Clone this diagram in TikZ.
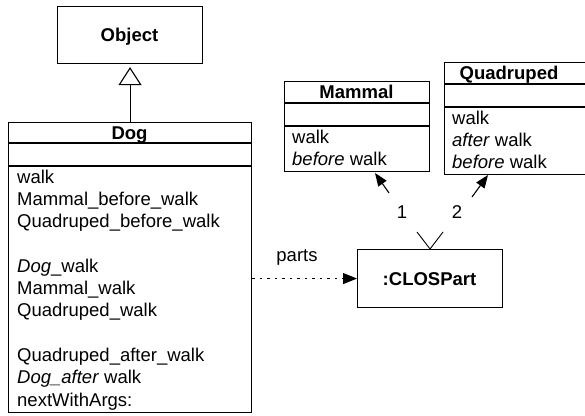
\documentclass[tikz,border=0pt]{standalone}
\usepackage{fontspec}
\setmainfont{Liberation Sans}
\usetikzlibrary{arrows.meta}
\tikzset{
  box/.style={draw, line width=1.1pt, inner sep=0pt, anchor=north west},
  sep/.style={line width=1.1pt},
  txt/.style={inner sep=0pt, anchor=base west, font=\fontsize{18.5}{22}\selectfont},
  ttl/.style={inner sep=0pt, anchor=base, font=\fontsize{18.5}{22}\selectfont\bfseries},
  lbl/.style={inner sep=0pt, anchor=base, font=\fontsize{18.5}{22}\selectfont},
  link/.style={line width=1.1pt},
  head/.style={-{Triangle[length=13pt,width=10pt]}},
}
\begin{document}
\begin{tikzpicture}[x=1pt,y=-1pt]
\useasboundingbox (0,0) rectangle (585,415);
% Object
\node[box, minimum width=145pt, minimum height=57pt] (object) at (57,6) {};
\node[ttl] (objectname) at (129.5,41) {Object};
% Dog
\node[box, minimum width=243pt, minimum height=290pt] (dog) at (8,122) {};
\draw[sep] ([yshift=-21pt]dog.north west) -- ([yshift=-21pt]dog.north east);
\draw[sep] ([yshift=-44pt]dog.north west) -- ([yshift=-44pt]dog.north east);
\node[ttl] (dogname) at (129.5,139.5) {Dog};
\node[txt] (d1) at (17,183) {walk};
\node[txt] (d2) at (17,205.3) {Mammal\_before\_walk};
\node[txt] (d3) at (17,227.6) {Quadruped\_before\_walk};
\node[txt] (d4) at (17,272.2) {\textit{Dog}\_walk};
\node[txt] (d5) at (17,294.5) {Mammal\_walk};
\node[txt] (d6) at (17,316.8) {Quadruped\_walk};
\node[txt] (d7) at (17,361.4) {Quadruped\_after\_walk};
\node[txt] (d8) at (17,383.7) {\textit{Dog\_after} walk};
\node[txt] (d9) at (17,406) {nextWithArgs:};
% Mammal
\node[box, minimum width=145pt, minimum height=90pt] (mammal) at (284,81) {};
\draw[sep] ([yshift=-22pt]mammal.north west) -- ([yshift=-22pt]mammal.north east);
\draw[sep] ([yshift=-45pt]mammal.north west) -- ([yshift=-45pt]mammal.north east);
\node[ttl] (mammalname) at (356.5,98) {Mammal};
\node[txt] (m1t) at (292,143) {walk};
\node[txt] (m2t) at (292,165) {\textit{before} walk};
% Quadruped
\node[box, minimum width=142pt, minimum height=112pt] (quad) at (444,62) {};
\draw[sep] ([yshift=-22pt]quad.north west) -- ([yshift=-22pt]quad.north east);
\draw[sep] ([yshift=-45pt]quad.north west) -- ([yshift=-45pt]quad.north east);
\node[ttl] (quadname) at (509,79) {Quadruped};
\node[txt] (q1t) at (452,124) {walk};
\node[txt] (q2t) at (452,146) {\textit{after} walk};
\node[txt] (q3t) at (452,168) {\textit{before} walk};
% CLOSPart
\node[box, minimum width=145pt, minimum height=58pt] (clos) at (357,249) {};
\node[ttl] (closname) at (429.5,285) {:CLOSPart};
% inheritance
\draw[link, -{Triangle[open,length=18pt,width=23pt]}, shorten >=3pt] (dog.north) -- (object.south);
% parts
\draw[link, dash pattern=on 2.5pt off 5pt, -{Triangle[length=14pt,width=11pt]}] (dog.east |- clos.west) -- (clos.west);
\node[lbl] (partslbl) at (297,261) {parts};
% part links
\coordinate (mv) at (417,232);
\coordinate (qv) at (443,232);
\coordinate (mtail) at (389,193);
\coordinate (mtip) at (375,173);
\coordinate (qtail) at (472,197);
\coordinate (qtip) at (488,175);
\draw[line width=0.9pt] (mv) -- (clos.north) -- (qv);
\draw[link, head] (mtail) -- (mtip);
\draw[link, head] (qtail) -- (qtip);
\node[lbl] (one) at (402,218) {1};
\node[lbl] (two) at (457,218) {2};
\end{tikzpicture}
\end{document}
